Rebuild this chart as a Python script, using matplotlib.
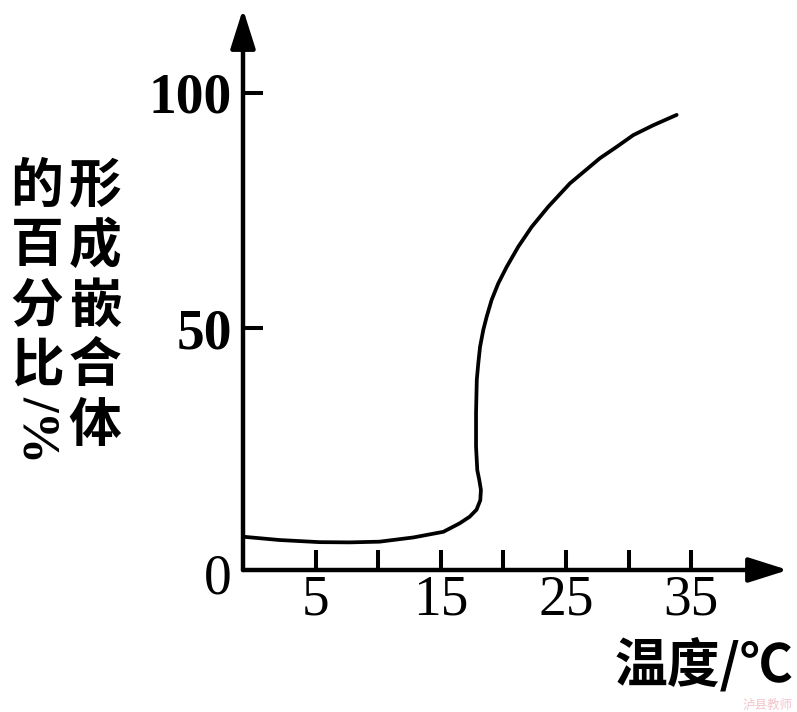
import matplotlib.pyplot as plt

# curve: temperature (°C) vs % forming chimeras
temp = [-0.8, 2.1, 5.3, 7.7, 10.1, 12.8, 15.2, 16.5, 17.3, 17.85, 18.15,
        18.2, 18.07, 17.91, 17.81, 17.81, 17.87, 17.99, 18.13, 18.39, 18.66,
        19.06, 19.59, 20.26, 21.19, 22.26, 23.59, 25.32, 27.72, 29.05,
        30.38, 31.98, 33.85]
pct = [5.65, 4.95, 4.5, 4.45, 4.6, 5.5, 6.7, 8.5, 9.9, 11.4, 13.4,
       15.6, 17.7, 19.8, 24.8, 31.9, 39.0, 42.5, 46.0, 49.6, 52.4,
       56.0, 59.5, 63.0, 67.3, 71.5, 75.8, 80.75, 86.1, 88.5,
       91.0, 93.1, 95.3]

x_ticks = [5, 10, 15, 20, 25, 30, 35]
x_ticklabels = ['5', '', '15', '', '25', '', '35']
y_ticks = [50, 100]
y_ticklabels = ['50', '100']

ylabel_right = "形成嵌合体"
ylabel_left = "的百分比"
xlabel = "温度/℃"

plt.rcParams['font.family'] = ['Liberation Serif', 'Noto Sans CJK SC']

W, H = 797, 712
fig = plt.figure(figsize=(W / 100, H / 100), dpi=100)


def fx(px):
    return px / W


def fy(py):
    return 1 - py / H


ax = fig.add_axes([fx(243), fy(570), fx(788) - fx(243), fy(9) - fy(570)])
ax.set_xlim(-0.82, 42.75)
ax.set_ylim(-1.42, 117.8)

ax.plot(temp, pct, color='black', lw=2.7, solid_capstyle='round',
        solid_joinstyle='round')

for s in ax.spines.values():
    s.set_visible(False)

# axes with arrow heads
arrow = dict(arrowstyle='-|>,head_length=1.2,head_width=0.38', lw=3.2,
             color='black', mutation_scale=20, shrinkA=0, shrinkB=0)
ax.annotate('', xy=(1, 0), xytext=(0, 0), xycoords='axes fraction',
            arrowprops=arrow)
ax.annotate('', xy=(0, 1), xytext=(0, 0), xycoords='axes fraction',
            arrowprops=arrow)

ax.set_xticks(x_ticks)
ax.set_xticklabels(x_ticklabels, fontsize=40)
ax.set_yticks(y_ticks)
ax.set_yticklabels(y_ticklabels, fontsize=40, fontweight='bold')
ax.tick_params(axis='both', direction='in', length=14.4, width=2.9)
ax.tick_params(axis='x', pad=3)
ax.tick_params(axis='y', pad=8)

fig.text(fx(218), fy(580), '0', ha='center', va='center', fontsize=40)

# vertical y label, two columns
cjk = ['Noto Sans CJK SC']
for i, ch in enumerate(ylabel_right):
    fig.text(fx(95), fy(186 + 60 * i), ch, ha='center', va='center',
             fontsize=38, fontweight='bold', family=cjk)
for i, ch in enumerate(ylabel_left):
    fig.text(fx(37), fy(186 + 60 * i), ch, ha='center', va='center',
             fontsize=38, fontweight='bold', family=cjk)
fig.text(fx(37), fy(430), '/%', ha='center', va='center', fontsize=38,
         fontweight='bold', rotation=-90)

fig.text(fx(793), fy(666), xlabel, ha='right', va='center', fontsize=38,
         fontweight='bold', family=cjk)
fig.text(fx(792), fy(705), '泸县教师', ha='right', va='center', fontsize=9,
         color='#f2c4cc', family=cjk)

fig.savefig('out.png', dpi=100)
